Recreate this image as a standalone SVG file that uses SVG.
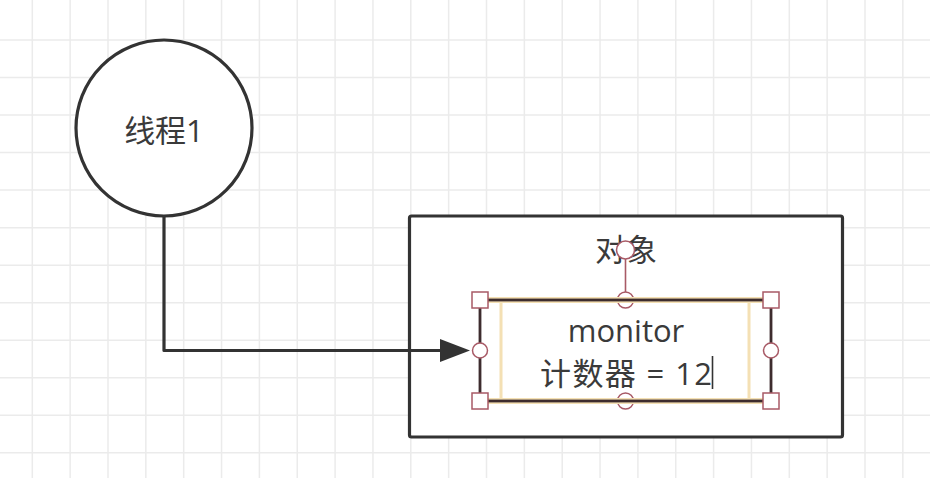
<svg xmlns="http://www.w3.org/2000/svg" width="930" height="478" viewBox="0 0 930 478">
<style>
.grid{stroke:#ebebeb;stroke-width:1.5;fill:none}
.shape{fill:#fff;stroke:#333;stroke-width:3.2}
.lbl{font-family:"Open Sans","Noto Sans CJK SC",sans-serif;font-size:31px;fill:#3a3a3a;text-anchor:middle}
.conn{fill:none;stroke:#333;stroke-width:3.2;stroke-linejoin:round}
.hdl{fill:#fff;stroke:#a85a66;stroke-width:1.5}
.sel{fill:none;stroke:#3d2c2e;stroke-width:2.8}
.edit{fill:none;stroke:#f4e0b4;stroke-width:3}
</style>
<defs>
<marker id="arrow" markerUnits="userSpaceOnUse" markerWidth="32" markerHeight="26" refX="0" refY="12" orient="auto">
<path d="M0 0.5 L30 12 L0 23.5 Z" fill="#333"/>
</marker>
</defs>
<rect width="930" height="478" fill="#fff"/>
<path class="grid" d="M32.3 0V478M70.15 0V478M108 0V478M145.85 0V478M183.7 0V478M221.55 0V478M259.4 0V478M297.25 0V478M335.1 0V478M372.95 0V478M410.8 0V478M448.65 0V478M486.5 0V478M524.35 0V478M562.2 0V478M600.05 0V478M637.9 0V478M675.75 0V478M713.6 0V478M751.45 0V478M789.3 0V478M827.15 0V478M865 0V478M902.85 0V478M0 40H930M0 77.53H930M0 115.06H930M0 152.59H930M0 190.12H930M0 227.65H930M0 265.18H930M0 302.71H930M0 340.24H930M0 377.77H930M0 415.3H930M0 452.83H930"/>
<g id="thread1">
<circle class="shape" cx="164" cy="128" r="88"/>
<text class="lbl" x="164" y="142">线程1</text>
</g>
<g id="object">
<rect class="shape" x="409.5" y="216" width="433" height="221" rx="2"/>
<text class="lbl" x="626" y="261">对象</text>
</g>
<g id="connectors">
<path class="conn" d="M164 216V350.5H440" marker-end="url(#arrow)"/>
</g>
<g id="monitor">
<rect x="480" y="300" width="291" height="101" fill="#fff"/>
<circle class="hdl" cx="625.5" cy="300" r="8"/>
<circle class="hdl" cx="625.5" cy="401" r="8"/>
<path d="M488 300H763M488 401H763" stroke="#f4e0b4" stroke-width="6" fill="none"/>
<rect class="edit" x="501" y="300" width="248" height="101"/>
<rect class="sel" x="480" y="300" width="291" height="101"/>
<text class="lbl" x="626" y="342">monitor</text>
<text class="lbl" x="626" y="385" textLength="172" lengthAdjust="spacing">计数器 = 12</text>
<line x1="712.5" y1="356" x2="712.5" y2="389" stroke="#333" stroke-width="1.6"/>
<line x1="625.5" y1="259" x2="625.5" y2="292" stroke="#a85a66" stroke-width="1.6"/>
<circle class="hdl" cx="625.5" cy="250" r="9"/>
<circle class="hdl" cx="480" cy="350.5" r="7.5"/>
<circle class="hdl" cx="771" cy="350.5" r="7.5"/>
<rect class="hdl" x="472" y="292" width="16" height="16"/>
<rect class="hdl" x="763" y="292" width="16" height="16"/>
<rect class="hdl" x="472" y="393" width="16" height="16"/>
<rect class="hdl" x="763" y="393" width="16" height="16"/>
</g>
</svg>
